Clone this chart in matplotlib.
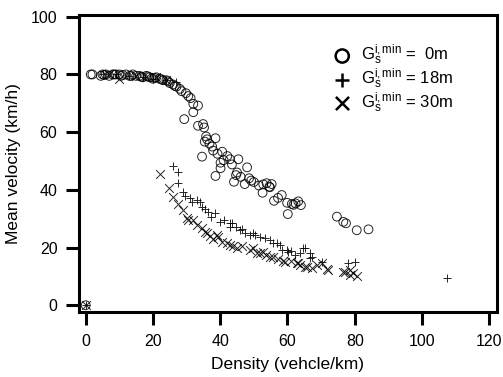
import numpy as np
import matplotlib
matplotlib.use("Agg")
import matplotlib.pyplot as plt

plt.rcParams['font.family'] = ['Liberation Sans', 'DejaVu Sans']
plt.rcParams['mathtext.fontset'] = 'custom'
plt.rcParams['mathtext.rm'] = 'Liberation Sans'
plt.rcParams['mathtext.it'] = 'Liberation Sans'

# G_s = 0m (circles)
x_0m = [0, 1.5, 2, 4.5, 5, 6, 7, 8, 9, 10, 10.5, 12, 13, 14, 15, 16, 17, 18, 19, 20,
        21, 22, 23, 24, 25, 26, 27, 28, 29.8, 31.2, 32.0, 33.4, 32.0, 29.3, 33.4,
        34.9, 35.2, 35.4, 36.1, 38.6, 37.6, 37.9, 34.6, 40.6, 42.1, 42.9, 45.4,
        40.1, 40.1, 38.6, 48.0, 44.7, 46.1, 48.6, 44.1, 47.3, 50.0, 52.8, 55.3,
        54.8, 52.6, 54.6, 56.0, 58.3, 59.9, 61.3, 62.4, 64.0, 60.1, 74.7, 76.6,
        77.4, 80.6, 84.1,
        5.5, 8.5, 11, 13.5, 16.5, 18.5, 20.5, 22.5, 24.5, 26.5, 28.5, 30.5,
        35.8, 36.8, 39.2, 41.0, 43.5, 45.0, 49.2, 51.5, 53.8, 57.2, 61.8, 63.2]
y_0m = [0, 80, 80, 79.5, 80, 80, 79.5, 80, 80, 80, 79.5, 80, 79.5, 80, 79.5, 79.5,
        79, 79.5, 79, 78.5, 79, 78.5, 78, 78, 77, 76.5, 75.8, 75, 73.5, 71.8, 69.8,
        69.2, 66.9, 64.5, 62.2, 62.8, 61.6, 56.7, 57.5, 57.9, 55.0, 53.6, 51.5,
        53.2, 51.7, 50.6, 50.6, 49.4, 47.5, 44.8, 47.8, 45.1, 44.5, 44.0, 42.8,
        42.0, 42.7, 41.9, 42.0, 40.9, 39.0, 41.1, 36.2, 38.2, 35.5, 35.1, 35.3,
        34.7, 31.6, 30.7, 28.9, 28.4, 26.0, 26.3,
        79.8, 80, 79.8, 79.5, 79.2, 79.3, 78.8, 78.3, 77.6, 76, 74.2, 72.5,
        58.5, 56.0, 52.5, 50.3, 48.8, 46.0, 43.2, 41.5, 42.3, 37.2, 34.8, 36.0]

# G_s = 18m (plus)
x_18m = [0, 5, 9, 13, 17, 20, 24, 27, 26.0, 27.5, 27.5, 28.8, 31.0, 31.5, 34.0,
         34.5, 36.4, 38.4, 39.9, 42.9, 42.9, 43.4, 45.9, 46.4, 48.8, 49.8, 50.3,
         53.3, 54.8, 55.8, 57.8, 58.3, 59.8, 60.2, 62.2, 63.7, 64.7, 65.2, 66.7,
         66.7, 67.2, 70.2, 78.1, 80.1, 107.4,
         29.5, 33.0, 35.5, 37.2, 41.0, 44.8, 47.5, 51.8, 56.8, 61.2]
y_18m = [0, 80, 80, 79.5, 79, 78.5, 78, 77.5, 48.3, 46.3, 42.5, 39.3, 37.3, 35.9,
         35.9, 34.1, 32.4, 31.8, 28.9, 28.4, 27.2, 28.6, 26.0, 26.3, 24.3, 24.9,
         24.3, 23.2, 22.6, 21.4, 20.8, 19.3, 19.1, 18.5, 17.4, 18.0, 19.7, 19.7,
         18.0, 16.2, 16.8, 15.0, 14.6, 15.0, 9.6,
         38.0, 36.5, 33.2, 30.5, 29.5, 27.0, 25.2, 23.8, 21.5, 18.8]

# G_s = 30m (cross)
x_30m = [0, 7, 10, 15, 18, 21, 24, 22.0, 24.8, 26.0, 29.0, 30.0, 30.5, 32.0, 34.5,
         35.4, 36.9, 38.9, 39.4, 41.9, 42.9, 43.9, 44.9, 48.8, 49.8, 50.8, 51.8,
         52.8, 54.8, 55.8, 58.8, 59.3, 62.7, 63.2, 63.7, 65.2, 65.7, 68.7, 70.2,
         71.7, 72.2, 76.6, 77.1, 78.6, 78.6, 80.6,
         27.5, 33.2, 36.0, 37.8, 40.5, 46.5, 53.5, 57.2, 61.0, 67.2, 79.5]
y_30m = [0, 80, 78.5, 79.5, 79, 79, 78, 45.5, 40.5, 37.5, 33.0, 30.1, 29.5, 29.5,
         26.6, 25.5, 24.0, 24.3, 23.7, 21.4, 20.8, 20.5, 19.9, 19.1, 19.7, 18.0,
         18.0, 18.5, 16.8, 16.8, 15.3, 15.0, 14.5, 14.5, 13.9, 13.3, 13.3, 13.9,
         14.5, 12.7, 12.3, 11.6, 11.6, 12.2, 10.4, 10.1,
         35.0, 27.8, 25.0, 22.8, 22.0, 20.5, 17.5, 16.0, 15.5, 13.0, 11.0]

labels = [r'$\mathregular{G_s^{i,min}}$ =  0m',
          r'$\mathregular{G_s^{i,min}}$ = 18m',
          r'$\mathregular{G_s^{i,min}}$ = 30m']

fig = plt.figure(figsize=(5.03, 3.77), dpi=100)
ax = fig.add_axes([0.157, 0.172, 0.831, 0.789])

ax.scatter(x_0m, y_0m, s=40, facecolors='none', edgecolors='black',
           linewidths=0.7, alpha=0.85, label=labels[0])
ax.scatter(x_18m, y_18m, s=40, marker='+', color='black', linewidths=0.7,
           alpha=0.85, label=labels[1])
ax.scatter(x_30m, y_30m, s=40, marker='x', color='black', linewidths=0.7,
           alpha=0.85, label=labels[2])

ax.set_xlim(-2, 122.3)
ax.set_ylim(-2.4, 100.7)
ax.set_xticks(np.arange(0, 121, 20))
ax.set_yticks(np.arange(0, 101, 20))

for s in ax.spines.values():
    s.set_linewidth(2.2)
ax.tick_params(direction='out', length=9.5, width=2.2, labelsize=11.5, pad=6)

ax.set_xlabel('Density (vehcle/km)', fontsize=12.5, labelpad=6)
ax.set_ylabel('Mean velocity (km/h)', fontsize=12.5, labelpad=7)

leg = ax.legend(loc='upper left', frameon=False, fontsize=12,
                bbox_to_anchor=(0.57, 0.955), handletextpad=0.5,
                labelspacing=-0.05, markerscale=1.5, handlelength=1.2)
for h in leg.legend_handles:
    h.set_linewidth(1.8)
    h.set_alpha(1)

fig.savefig('out.png', dpi=100)
